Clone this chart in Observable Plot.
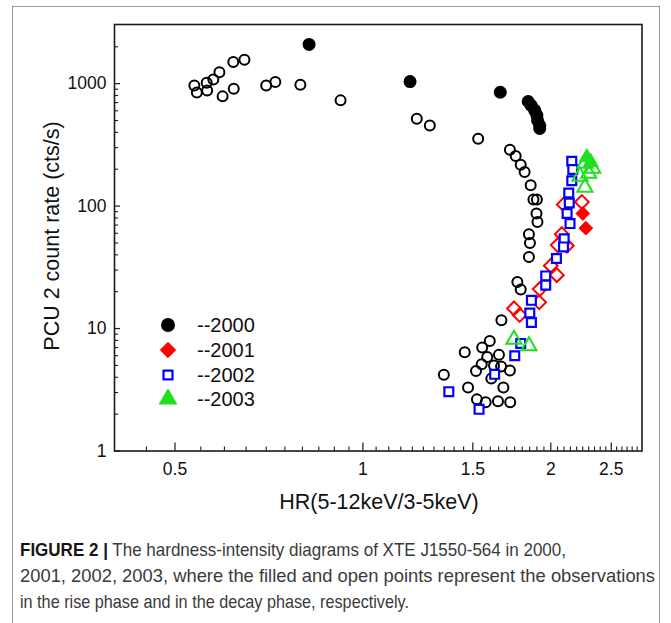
<!DOCTYPE html>
<html><head><meta charset="utf-8">
<script src="https://cdn.jsdelivr.net/npm/d3@7"></script>
<script src="https://cdn.jsdelivr.net/npm/@observablehq/plot@0.6"></script>
<style>
body{margin:0;background:#fff;}
#wrap{position:relative;width:671px;height:623px;overflow:hidden;font-family:"Liberation Sans",Arial,sans-serif;background:#fff;}
#outer{position:absolute;left:12px;top:6px;width:648px;height:660px;border:1.5px solid #9a9a9a;box-sizing:border-box;}
#chart{position:absolute;left:0;top:0;}
.ytitle{position:absolute;left:52px;top:236px;transform:translate(-50%,-50%) rotate(-90deg);font-size:21.5px;white-space:nowrap;color:#111;}
.xtitle{position:absolute;left:379px;top:502px;transform:translate(-50%,-50%);font-size:21.5px;white-space:nowrap;color:#111;}
#legend{position:absolute;left:0;top:0;}
.cap{position:absolute;left:20px;font-family:"Liberation Sans",Arial,sans-serif;font-size:18.5px;line-height:22px;color:#3a3a3a;white-space:nowrap;transform-origin:0 50%;}
.cap b{color:#151515;}
</style></head><body>
<div id="wrap">
  <div id="outer"></div>
  <div id="chart"></div>
  <div class="ytitle">PCU 2 count rate (cts/s)</div>
  <div class="xtitle">HR(5-12keV/3-5keV)</div>
  <svg id="legend" width="671" height="520"></svg>
  <div class="cap" id="cap1" data-w="546" style="top:539px"><b>FIGURE 2 |</b> The hardness-intensity diagrams of XTE J1550-564 in 2000,</div>
  <div class="cap" id="cap2" data-w="635" style="top:565px">2001, 2002, 2003, where the filled and open points represent the observations</div>
  <div class="cap" id="cap3" data-w="389" style="top:591px">in the rise phase and in the decay phase, respectively.</div>
</div>
<script>
// ---- data: [HR, PCU2 count rate] ----
const rise2000 = [[0.82,2090],[1.19,1040],[1.66,850],[1.84,715],[1.86,665],[1.885,605],[1.90,550],[1.905,500],[1.92,455],[1.92,430]];
const decay2000 = [[0.537,965],[0.542,845],[0.562,1015],[0.563,880],[0.576,1080],[0.589,1240],[0.596,787],[0.62,1500],[0.621,910],[0.646,1565],
  [0.70,965],[0.724,1030],[0.794,980],[0.921,730],[1.22,517],[1.28,456],[1.53,355],[1.72,289],[1.757,256],[1.79,218],[1.816,190],[1.857,148],
  [1.876,113],[1.90,113],[1.897,87],[1.904,74],[1.845,59],[1.852,50],[1.845,38.4],[1.768,24],[1.79,20.8],[1.667,11.7],[1.597,7.9],[1.553,7.0],
  [1.456,6.4],[1.652,6.1],[1.582,5.85],[1.55,5.1],[1.622,5.0],[1.665,4.9],[1.72,4.55],[1.518,4.5],[1.606,3.9],[1.348,4.2],[1.679,3.3],[1.474,3.3],
  [1.523,2.64],[1.573,2.5],[1.646,2.55],[1.722,2.5]];
const rise2001 = [[2.251,87],[2.276,66]];
const decay2001 = [[1.746,14.6],[1.783,12.9],[1.916,16.4],[1.92,21],[2.00,32.6],[2.045,27.3],[2.052,48],[2.122,47.5],[2.083,59],[2.098,103],[2.243,108]];
const decay2002 = [[2.161,232],[2.169,199],[2.161,161],[2.137,128],[2.141,106],[2.124,87],[2.147,72],[2.101,54],[2.096,46.4],[2.042,37.3],
  [1.963,26.9],[1.963,22.6],[1.862,17],[1.851,13.4],[1.862,11.2],[1.79,7.56],[1.751,6.0],[1.626,4.23],[1.373,3.05],[1.535,2.19]];
const rise2003 = [[2.284,250],[2.318,228]];
const decay2003 = [[2.268,223],[2.335,203],[2.227,175],[2.30,185],[2.268,142],[1.746,8.15],[1.845,7.2]];

// ---- axes ----
const xDomain = [0.4, 2.8];
const yDomain = [1, 3040];
const xMajor = [0.5, 1, 1.5, 2, 2.5];
const xMinor = [0.45,0.55,0.6,0.65,0.7,0.75,0.8,0.85,0.9,0.95,1.05,1.1,1.15,1.2,1.25,1.3,1.35,1.4,1.45,
  1.55,1.6,1.65,1.7,1.75,1.8,1.85,1.9,1.95,2.05,2.1,2.15,2.2,2.25,2.3,2.35,2.4,2.45,2.55,2.6,2.65,2.7,2.75];
const yMajor = [1, 10, 100, 1000];
const yMinor = [2,3,4,5,6,7,8,9,20,30,40,50,60,70,80,90,200,300,400,500,600,700,800,900,2000];
const legendLabels = ["--2000","--2001","--2002","--2003"];

const W = 671, H = 520, mL = 114, mR = 29.5, mT = 24, mB = 69.5;
const pW = W - mL - mR, pH = H - mT - mB;
const ink = "#1a1a1a";
const RED = "#ff0000", BLUE = "#0000ff", GREEN = "#1fe01f";

const chart = Plot.plot({
  width: W, height: H, marginLeft: mL, marginRight: mR, marginTop: mT, marginBottom: mB,
  x: {type: "log", domain: xDomain},
  y: {type: "log", domain: yDomain},
  style: {fontFamily: "'Liberation Sans', Arial, sans-serif", fontSize: "17.5px", color: "#111", background: "transparent"},
  marks: [
    Plot.tickX(xMajor, {x: d => d, insetTop: pH - 8, stroke: ink, strokeWidth: 1.2}),
    Plot.tickX(xMinor, {x: d => d, insetTop: pH - 4, stroke: ink, strokeWidth: 1.1}),
    Plot.tickY(yMajor, {y: d => d, insetRight: pW - 6, stroke: ink, strokeWidth: 1.2}),
    Plot.tickY(yMinor, {y: d => d, insetRight: pW - 4, stroke: ink, strokeWidth: 1.1}),
    Plot.axisX({ticks: xMajor, tickSize: 0, tickPadding: 12, tickFormat: d => String(d), label: null}),
    Plot.axisY({ticks: yMajor, tickSize: 0, tickPadding: 8, tickFormat: d => String(d), label: null}),
    Plot.frame({stroke: ink, strokeWidth: 1.6}),
    Plot.dot(decay2000, {x: d => d[0], y: d => d[1], r: 5, stroke: "#000", strokeWidth: 2, fill: "none"}),
    Plot.dot(rise2000, {x: d => d[0], y: d => d[1], r: 6.5, fill: "#000", stroke: "none"}),
    Plot.dot(decay2001, {x: d => d[0], y: d => d[1], symbol: "diamond2", r: 6.2, stroke: RED, strokeWidth: 2, fill: "none"}),
    Plot.dot(rise2001, {x: d => d[0], y: d => d[1], symbol: "diamond2", r: 6.2, fill: RED, stroke: RED, strokeWidth: 1}),
    Plot.dot(decay2002, {x: d => d[0], y: d => d[1], symbol: "square", r: 5, stroke: BLUE, strokeWidth: 2.2, fill: "white"}),
    Plot.dot(decay2003, {x: d => d[0], y: d => d[1], symbol: "triangle", r: 5.6, stroke: GREEN, strokeWidth: 2, fill: "none"}),
    Plot.dot(rise2003, {x: d => d[0], y: d => d[1], symbol: "triangle", r: 5.6, fill: GREEN, stroke: GREEN, strokeWidth: 1})
  ]
});
document.getElementById("chart").append(chart);

// ---- legend ----
const lg = d3.select("#legend");
const legendItems = [
  {sym: d3.symbolCircle, size: Math.PI * 7 * 7, fill: "#000", stroke: "none", sw: 0},
  {sym: d3.symbolDiamond2, size: 150, fill: RED, stroke: RED, sw: 1},
  {sym: d3.symbolSquare, size: 80, fill: "white", stroke: BLUE, sw: 2.2},
  {sym: d3.symbolTriangle, size: 130, fill: GREEN, stroke: GREEN, sw: 1}
];
const legendY = [325, 350, 375, 399];
legendItems.forEach((it, i) => {
  lg.append("path").attr("d", d3.symbol(it.sym, it.size)()).attr("transform", `translate(168,${legendY[i]})`)
    .attr("fill", it.fill).attr("stroke", it.stroke).attr("stroke-width", it.sw);
  lg.append("text").attr("x", 197).attr("y", legendY[i]).attr("dy", "0.36em")
    .attr("font-family", "'Liberation Sans', Arial, sans-serif").attr("font-size", 20).attr("fill", "#111").text(legendLabels[i]);
});

// ---- caption: condense each line horizontally to the reference line width ----
document.querySelectorAll(".cap").forEach(e => {
  const w = e.getBoundingClientRect().width;
  let sx = (+e.dataset.w) / w;
  sx = Math.max(0.6, Math.min(1.2, sx));
  e.style.transform = `scaleX(${sx})`;
});
</script>
</body></html>
